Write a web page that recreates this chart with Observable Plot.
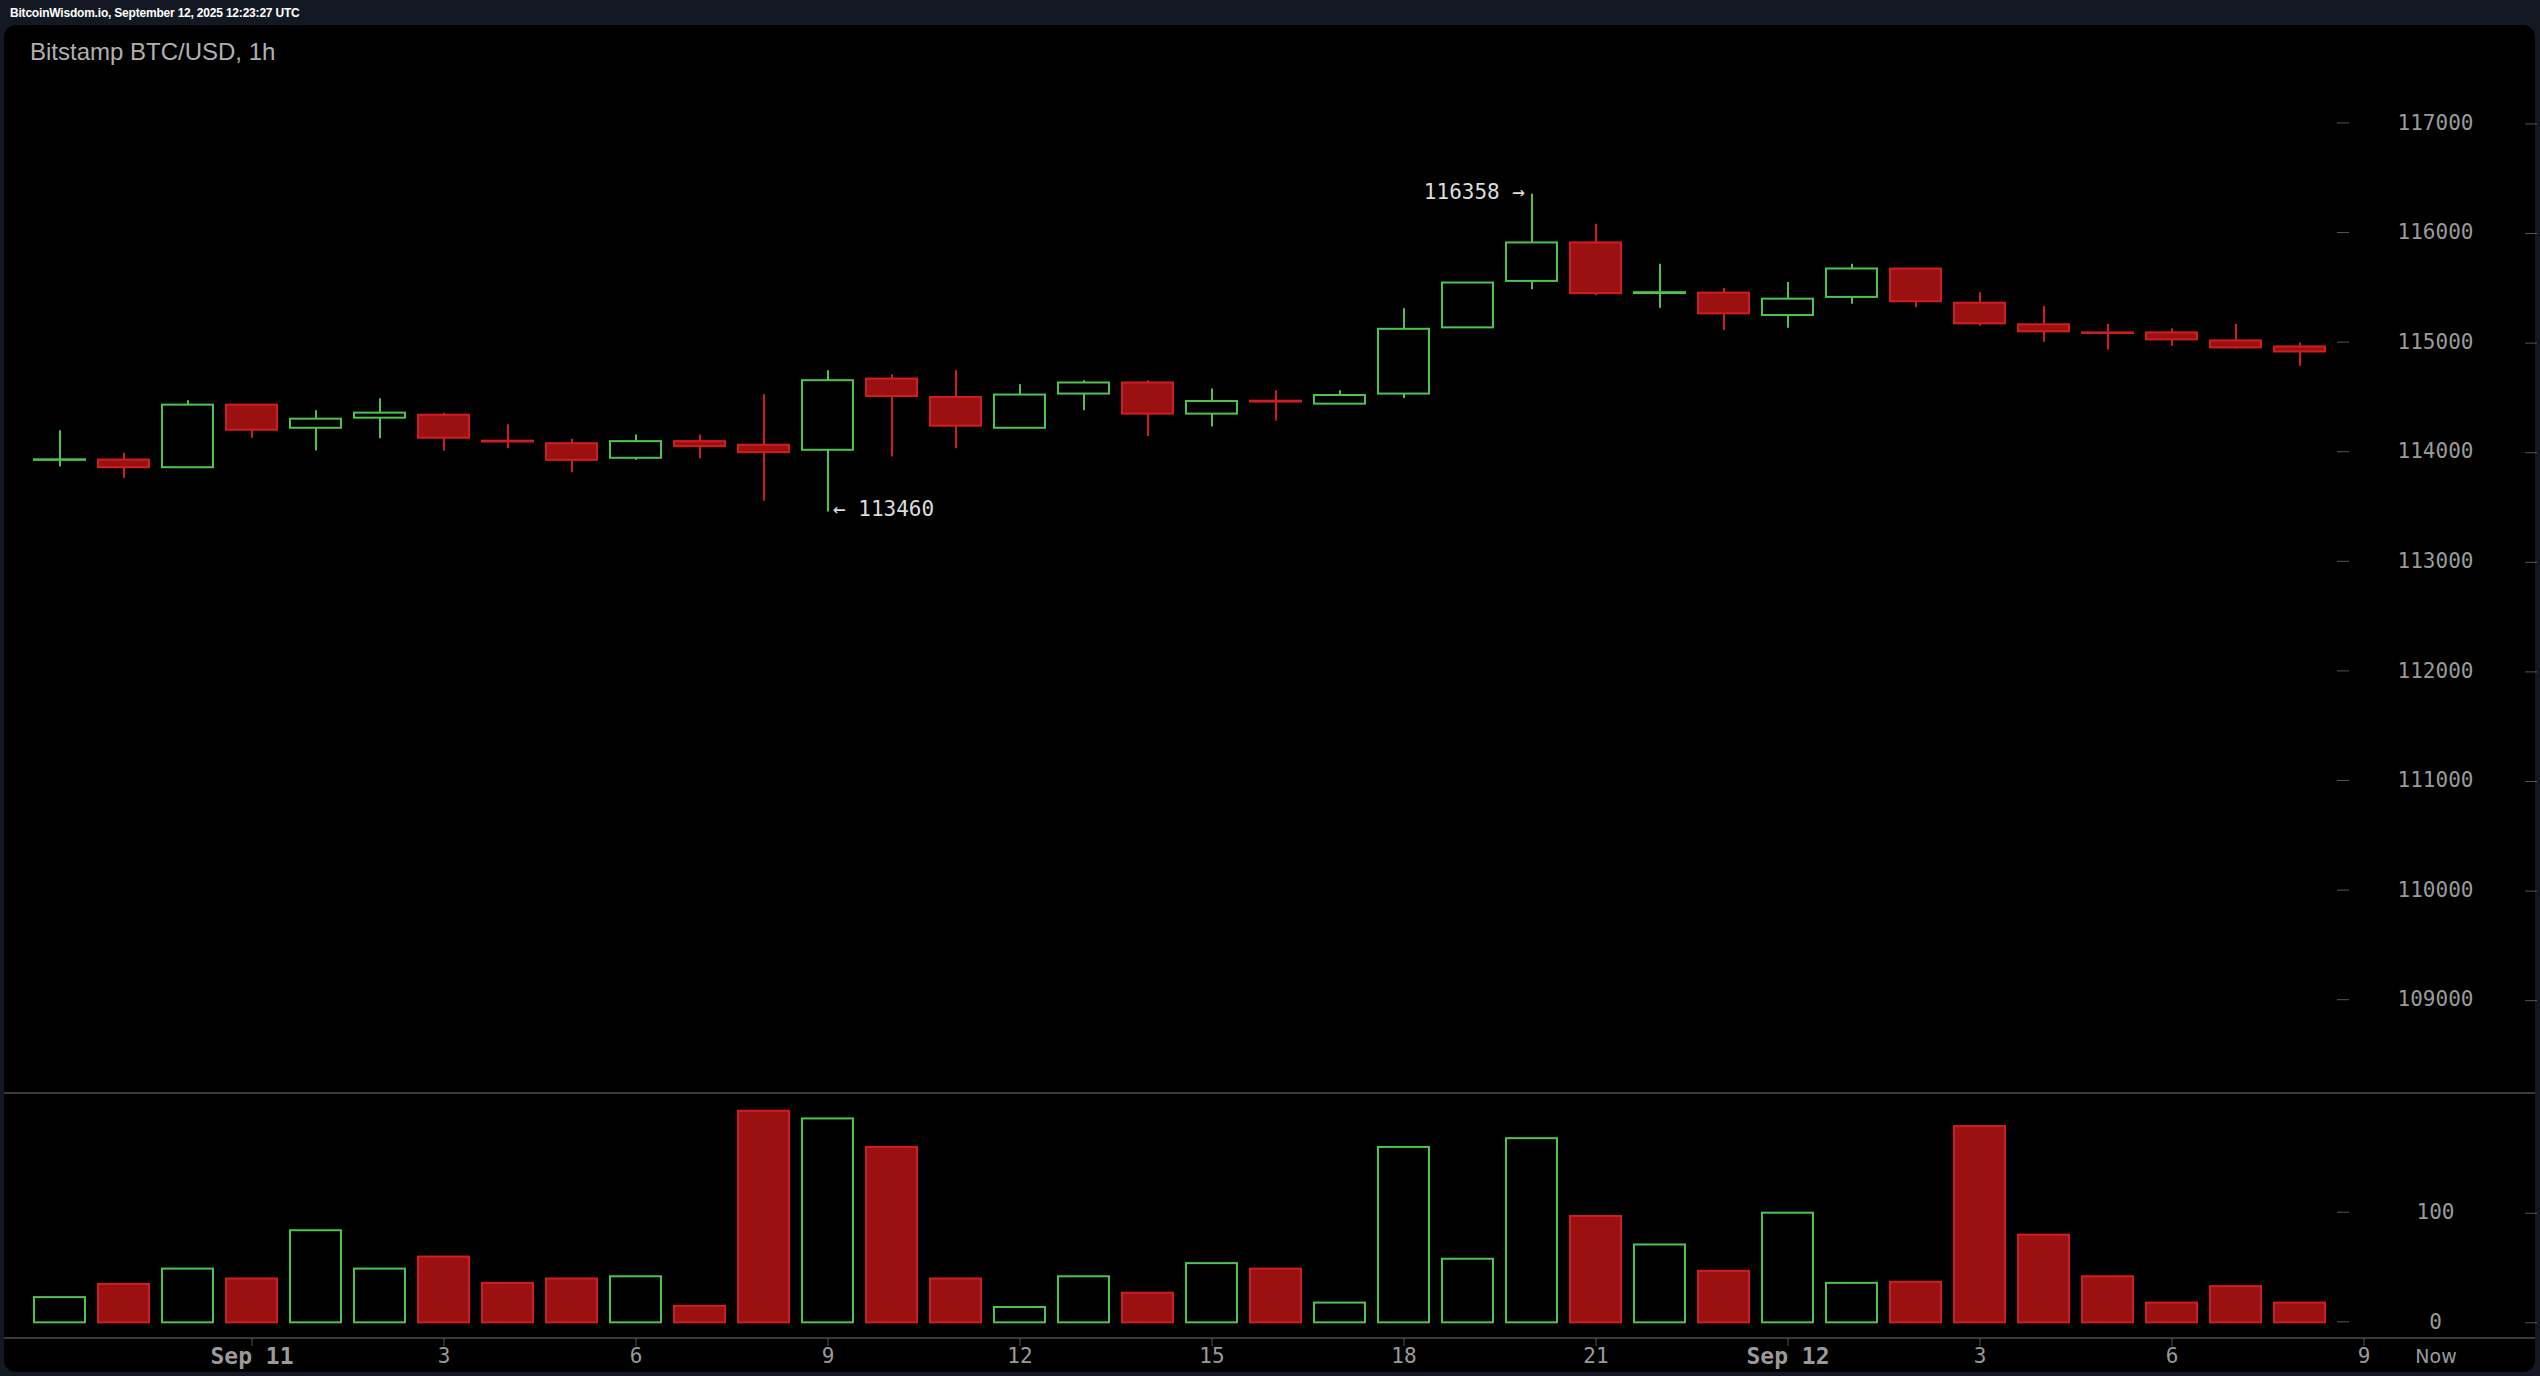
<!DOCTYPE html>
<html><head><meta charset="utf-8">
<script src="https://cdn.jsdelivr.net/npm/d3@7"></script>
<script src="https://cdn.jsdelivr.net/npm/@observablehq/plot@0.6"></script>
<style>
html,body{margin:0;padding:0;}
body{width:2540px;height:1376px;background:#131822;position:relative;overflow:hidden;font-family:"DejaVu Sans Mono",monospace;}
#panel{position:absolute;left:4px;top:25px;width:2531px;height:1347px;background:#000;border-radius:12px;}
#header{position:absolute;left:10px;top:6px;font:bold 12px "Liberation Sans",Arial,sans-serif;color:#fff;white-space:nowrap;letter-spacing:-0.2px;}
#title{position:absolute;left:30px;top:38px;font:24px "Liberation Sans",Arial,sans-serif;color:#b0b0b0;white-space:nowrap;}
.sep{position:absolute;left:4px;width:2531px;height:2px;background:#3a3a3a;}
#price{position:absolute;left:0;top:25px;}
#volume{position:absolute;left:0;top:1093px;}
#now{position:absolute;left:2386px;width:100px;text-align:center;top:1345px;font:19px "DejaVu Sans",sans-serif;color:#9a9a9a;}
</style></head><body>
<div id="panel"></div>
<div id="header">BitcoinWisdom.io, September 12, 2025 12:23:27 UTC</div>
<div id="title">Bitstamp BTC/USD, 1h</div>
<div class="sep" style="top:1092px"></div>
<div class="sep" style="top:1337px"></div>
<div id="price"></div>
<div id="volume"></div>
<div id="now">Now</div>
<script>
// ---- data ----
const hours = ["09-10 21","09-10 22","09-10 23",
  "09-11 00","09-11 01","09-11 02","09-11 03","09-11 04","09-11 05","09-11 06","09-11 07","09-11 08",
  "09-11 09","09-11 10","09-11 11","09-11 12","09-11 13","09-11 14","09-11 15","09-11 16","09-11 17",
  "09-11 18","09-11 19","09-11 20","09-11 21","09-11 22","09-11 23",
  "09-12 00","09-12 01","09-12 02","09-12 03","09-12 04","09-12 05","09-12 06","09-12 07","09-12 08"];
const extraSlot = ["09-12 09"];
const open  = [113930,113933,113863,114434,114223,114315,114342,114105,114082,113949,114101,114068,
               114022,114672,114504,114223,114535,114636,114352,114470,114443,114535,115139,115563,
               115914,115452,115456,115252,115417,115676,115364,115167,115093,115093,115020,114965];
const high  = [114200,113995,114473,114440,114382,114492,114360,114254,114123,114162,114162,114528,
               114748,114712,114748,114620,114657,114657,114581,114565,114565,115313,115548,116358,
               116085,115719,115499,115554,115719,115680,115460,115334,115169,115130,115169,115002];
const low   = [113870,113766,113860,114132,114016,114128,114016,114037,113817,113930,113945,113558,
               113460,113961,114037,114220,114382,114147,114235,114290,114440,114495,115139,115487,
               115432,115319,115114,115136,115355,115322,115154,115007,114938,114971,114947,114788];
const close = [113935,113863,114434,114205,114306,114361,114132,114098,113930,114101,114055,114000,
               114657,114513,114242,114526,114636,114352,114467,114462,114522,115126,115548,115914,
               115451,115460,115267,115401,115676,115377,115176,115103,115088,115029,114956,114919];
const volume = [23,35,49,40,84,49,60,36,40,42,15,193,
                186,160,40,14,42,27,54,49,18,160,58,168,
                97,71,47,100,36,37,179,80,42,18,33,18];
const priceTicks = [109000,110000,111000,112000,113000,114000,115000,116000,117000];
const volumeTicks = [0,100];
const xTickKeys = ["09-11 00","09-11 03","09-11 06","09-11 09","09-11 12","09-11 15","09-11 18","09-11 21",
                   "09-12 00","09-12 03","09-12 06","09-12 09"];
const xTickLabels = ["Sep 11","3","6","9","12","15","18","21","Sep 12","3","6","9"];

// ---- styling ----
const GREEN = "#4fc24f", RED_LINE = "#d01e1e", RED_FILL = "#9b1111";
const AXIS_TEXT = "#9a9a9a", AXIS_TICK = "#555";

const candles = hours.map((h, i) => ({key: h, open: open[i], high: high[i], low: low[i], close: close[i],
  volume: volume[i], up: close[i] >= open[i]}));
const labelOf = new Map(xTickKeys.map((k, i) => [k, xTickLabels[i]]));
const dateKeys = xTickKeys.filter(k => labelOf.get(k).startsWith("Sep"));
const hourKeys = xTickKeys.filter(k => !labelOf.get(k).startsWith("Sep"));

const xScale = () => ({type: "band", domain: [...hours, ...extraSlot], range: [33.5, 2388.5],
  paddingInner: 0.203125, paddingOuter: 0, align: 0.5, axis: null, label: null});
const baseStyle = {background: "transparent", color: AXIS_TEXT, fontFamily: "'DejaVu Sans Mono', monospace",
  fontSize: "21px", overflow: "visible"};

const hi = d3.greatest(candles, d => d.high);
const lo = d3.least(candles, d => d.low);

const pricePlot = Plot.plot({
  width: 2540, height: 1068,
  marginTop: 0, marginBottom: 0, marginLeft: 0, marginRight: 204,
  style: baseStyle,
  x: xScale(),
  y: {domain: [108153.3, 117897.8], axis: null, label: null},
  marks: [
    Plot.axisY(priceTicks, {anchor: "right", label: null, tickSize: 12, tickPadding: 87, textAnchor: "middle",
      dy: -1, tickFormat: d => String(d), stroke: AXIS_TICK, fill: AXIS_TEXT, fontSize: 21}),
    Plot.axisY(priceTicks, {anchor: "right", label: null, tickSize: 12, fill: "none", dx: 188, stroke: AXIS_TICK}),
    Plot.ruleX(candles, {x: "key", y1: "low", y2: "high", stroke: d => d.up ? GREEN : RED_LINE, strokeWidth: 2}),
    Plot.barY(candles, {x: "key", y1: "open", y2: "close", fill: d => d.up ? "#000000" : RED_FILL,
      stroke: d => d.up ? GREEN : RED_LINE, strokeWidth: 2}),
    Plot.text([hi], {x: "key", y: "high", text: d => `${d.high} →`, textAnchor: "end", dx: -7, dy: -2,
      fill: "#dcdcdc", fontSize: 21}),
    Plot.text([lo], {x: "key", y: "low", text: d => `← ${d.low}`, textAnchor: "start", dx: 5, dy: -3,
      fill: "#dcdcdc", fontSize: 21})
  ]
});
document.getElementById("price").append(pricePlot);

const volumePlot = Plot.plot({
  width: 2540, height: 283,
  marginTop: 0, marginBottom: 38, marginLeft: 0, marginRight: 204,
  style: baseStyle,
  x: xScale(),
  y: {domain: [-14.3, 209.2], axis: null, label: null},
  marks: [
    Plot.axisY(volumeTicks, {anchor: "right", label: null, tickSize: 12, tickPadding: 87, textAnchor: "middle",
      dy: -1, tickFormat: d => String(d), stroke: AXIS_TICK, fill: AXIS_TEXT, fontSize: 21}),
    Plot.axisY(volumeTicks, {anchor: "right", label: null, tickSize: 12, fill: "none", dx: 188, stroke: AXIS_TICK}),
    Plot.barY(candles, {x: "key", y1: 0, y2: "volume", fill: d => d.up ? "#000000" : RED_FILL,
      stroke: d => d.up ? GREEN : RED_LINE, strokeWidth: 2}),
    Plot.axisX(hourKeys, {anchor: "bottom", label: null, tickSize: 8, tickPadding: 2, tickFormat: k => labelOf.get(k),
      stroke: AXIS_TICK, fill: AXIS_TEXT, fontSize: 21}),
    Plot.axisX(dateKeys, {anchor: "bottom", label: null, tickSize: 8, tickPadding: 1, tickFormat: k => labelOf.get(k),
      stroke: AXIS_TICK, fill: AXIS_TEXT, fontSize: 23, fontWeight: "bold"})
  ]
});
document.getElementById("volume").append(volumePlot);
</script>
</body></html>
